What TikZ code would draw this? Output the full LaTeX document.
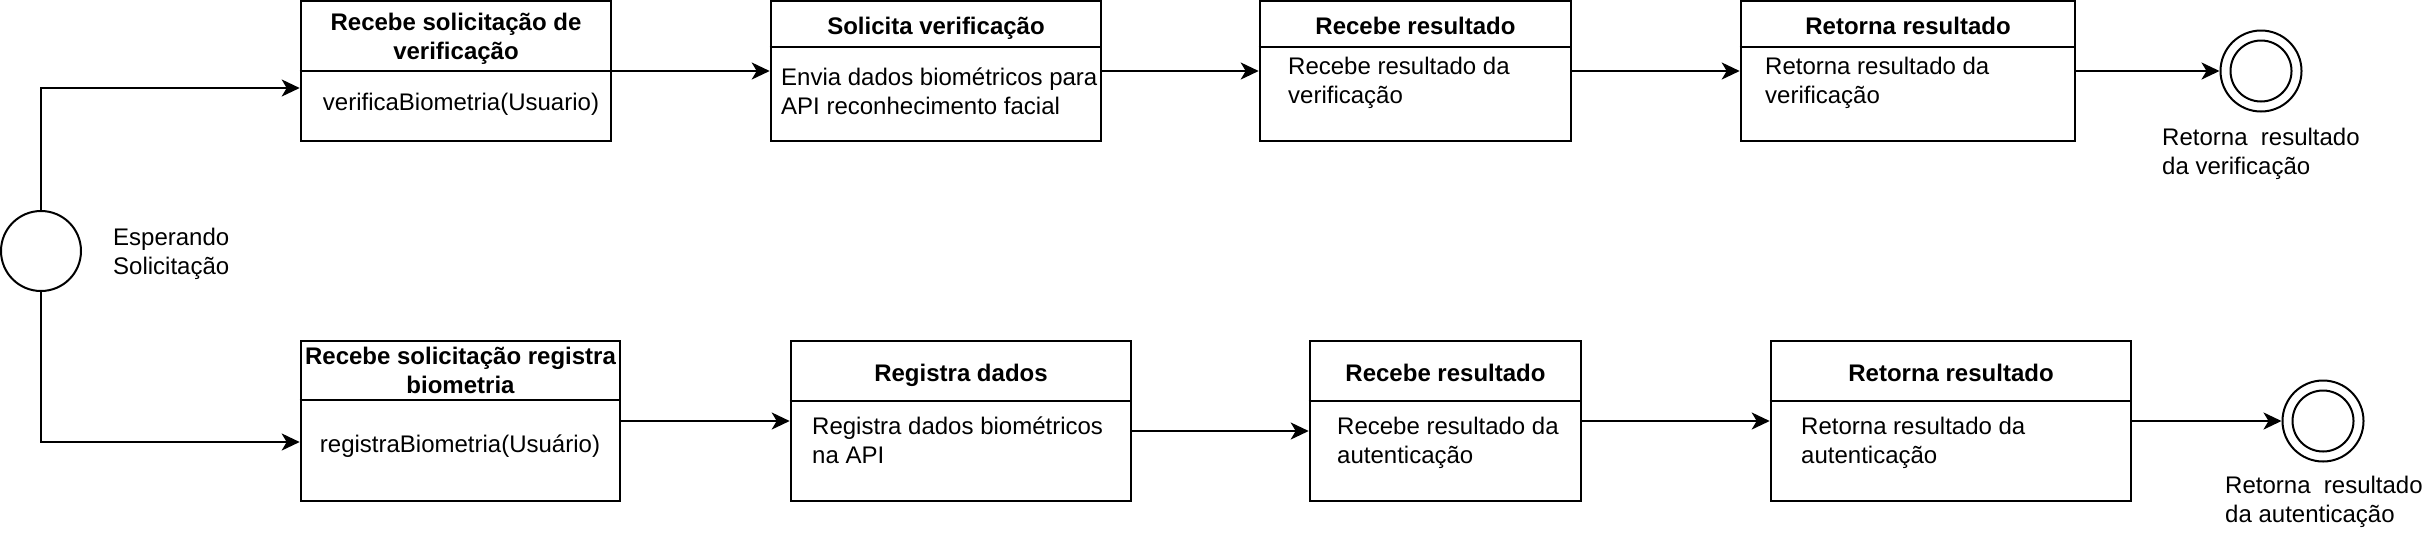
\documentclass[tikz,border=0pt]{standalone}
\usepackage{fontspec}
\setmainfont{Liberation Sans}
\usetikzlibrary{arrows.meta}
\begin{document}
\begin{tikzpicture}[x=1pt,y=-1pt,
  box/.style={draw, line width=2.6pt, rectangle, inner sep=0pt},
  divider/.style={line width=2.4pt},
  arr/.style={line width=2.4pt, -{Stealth[length=18pt,width=17pt,inset=5pt]}},
  state/.style={draw, circle, line width=2pt, inner sep=0pt},
  txt/.style={inner sep=0pt, font=\fontsize{24}{29}\selectfont, execute at begin node=\strut},
  ttl/.style={txt, font=\fontsize{24}{29}\selectfont\bfseries, align=center, anchor=north},
  bodyl/.style={txt, align=left, anchor=north west},
  bodyc/.style={txt, align=center, anchor=north},
  lbl/.style={txt, align=left, anchor=north west},
]
\useasboundingbox (0,0) rectangle (2424,542);

% states
\node[state, minimum size=80pt] (start) at (41,251) {};
\node[lbl] (startlbl) at (113,227.5) {Esperando\\Solicitação};

\node[state, minimum size=81pt] (end1) at (2261,71) {};
\node[state, minimum size=61pt] (end1i) at (2261,71) {};
\node[lbl] (end1lbl) at (2162,128) {Retorna~ resultado\\da verificação};

\node[state, minimum size=81pt] (end2) at (2323,421) {};
\node[state, minimum size=61pt] (end2i) at (2323,421) {};
\node[lbl] (end2lbl) at (2225,476.3) {Retorna~ resultado\\da autenticação};

% top row boxes
\node[box, minimum width=310pt, minimum height=140pt] (b1) at (456,71) {};
\draw[divider] (b1.west |- 0,71) -- (b1.east |- 0,71);
\node[ttl] (t1) at (456,12.5) {Recebe solicitação de\\verificação};
\node[bodyc] (d1) at (461,90) {verificaBiometria(Usuario)};

\node[box, minimum width=330pt, minimum height=140pt] (b2) at (936,71) {};
\draw[divider] (b2.west |- 0,47) -- (b2.east |- 0,47);
\node[ttl] (t2) at (936,14) {Solicita verificação};
\node[bodyl] (d2) at (781,67.5) {Envia dados biométricos para\\API reconhecimento facial};

\node[box, minimum width=311pt, minimum height=140pt] (b3) at (1415.5,71) {};
\draw[divider] (b3.west |- 0,47) -- (b3.east |- 0,47);
\node[ttl] (t3) at (1415.5,14) {Recebe resultado};
\node[bodyl] (d3) at (1288,56.5) {Recebe resultado da\\verificação};

\node[box, minimum width=334pt, minimum height=140pt] (b4) at (1908,71) {};
\draw[divider] (b4.west |- 0,47) -- (b4.east |- 0,47);
\node[ttl] (t4) at (1908,14) {Retorna resultado};
\node[bodyl] (d4) at (1765,56.5) {Retorna resultado da\\verificação};

% bottom row boxes
\node[box, minimum width=319pt, minimum height=160pt] (b5) at (460.5,421) {};
\draw[divider] (b5.west |- 0,400) -- (b5.east |- 0,400);
\node[ttl] (t5) at (460.5,347) {Recebe solicitação registra\\biometria};
\node[bodyc] (d5) at (460,431.5) {registraBiometria(Usuário)};

\node[box, minimum width=340pt, minimum height=160pt] (b6) at (961,421) {};
\draw[divider] (b6.west |- 0,401) -- (b6.east |- 0,401);
\node[ttl] (t6) at (961,360.5) {Registra dados};
\node[bodyl] (d6) at (812,417) {Registra dados biométricos\\na API};

\node[box, minimum width=271pt, minimum height=160pt] (b7) at (1445.5,421) {};
\draw[divider] (b7.west |- 0,401) -- (b7.east |- 0,401);
\node[ttl] (t7) at (1445.5,360.5) {Recebe resultado};
\node[bodyl] (d7) at (1337,417) {Recebe resultado da\\autenticação};

\node[box, minimum width=360pt, minimum height=160pt] (b8) at (1951,421) {};
\draw[divider] (b8.west |- 0,401) -- (b8.east |- 0,401);
\node[ttl] (t8) at (1951,360.5) {Retorna resultado};
\node[bodyl] (d8) at (1801,417) {Retorna resultado da\\autenticação};

% connectors
\draw[arr] (start.north) |- ([yshift=-17pt]b1.west);
\draw[arr] (start.south) |- ([yshift=-21pt]b5.west);
\draw[arr] (b1.east) -- (b2.west);
\draw[arr] (b2.east) -- (b3.west);
\draw[arr] (b3.east) -- (b4.west);
\draw[arr] (b4.east) -- (end1.west);
\draw[arr] (b5.east) -- (b6.west);
\draw[arr] ([yshift=-10pt]b6.east) -- ([yshift=-10pt]b7.west);
\draw[arr] (b7.east) -- (b8.west);
\draw[arr] (b8.east) -- (end2.west);
\end{tikzpicture}
\end{document}
